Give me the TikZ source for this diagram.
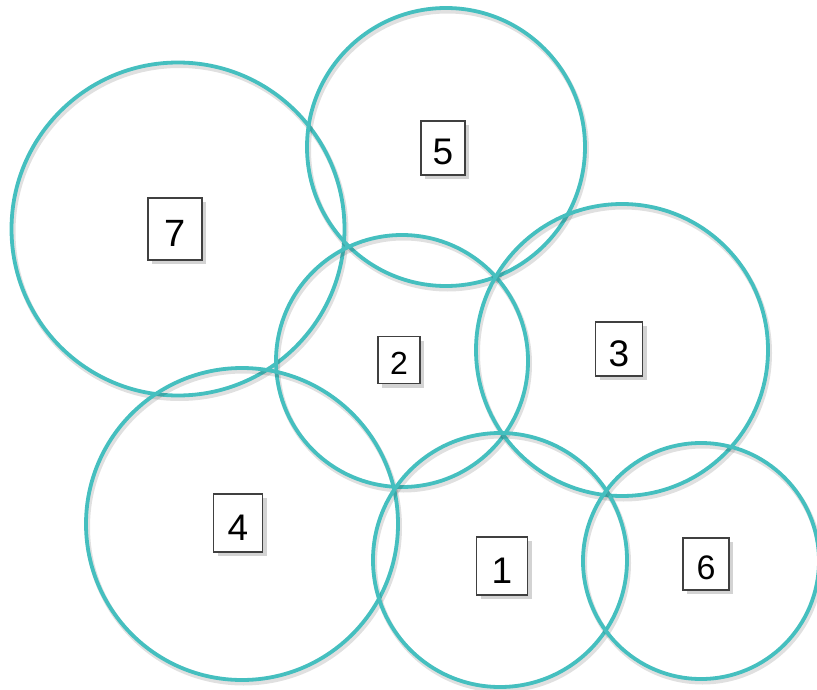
\documentclass[tikz,border=0pt]{standalone}
\usepackage{fontspec}
\setmainfont{Liberation Sans}
\usetikzlibrary{shadows}
\definecolor{teal}{HTML}{45BFBF}

\begin{document}
\begin{tikzpicture}[x=1pt,y=-1pt,
  zone/.style={circle,draw=teal,line width=3.8pt,inner sep=0pt,
    drop shadow={shadow xshift=1.5pt,shadow yshift=-3pt,opacity=0.12,fill=none,draw=black,line width=5pt}},
  numbox/.style={draw=black!75,line width=1.5pt,fill=white,font=\fontsize{37}{37}\selectfont,
    minimum width=47pt,minimum height=54pt,inner sep=0pt,text height=34pt,text depth=0pt,
    drop shadow={shadow xshift=4pt,shadow yshift=-4pt,opacity=0.35}}]
\useasboundingbox (0,0) rectangle (817,690);
\node[zone,minimum size=333pt] (Z7) at (178,229) {};
\node[zone,minimum size=278pt] (Z5) at (446,147) {};
\node[zone,minimum size=252pt] (Z2) at (402,361) {};
\node[zone,minimum size=292pt] (Z3) at (622,350) {};
\node[zone,minimum size=312pt] (Z4) at (242,524) {};
\node[zone,minimum size=254pt] (Z1) at (500,560) {};
\node[zone,minimum size=236pt] (Z6) at (701,561) {};
\node[numbox,minimum width=54pt,minimum height=62pt,font=\fontsize{38}{38}\selectfont] (N7) at (175,229) {7};
\node[numbox,minimum width=44pt] (N5) at (443,148) {5};
\node[numbox,minimum width=42pt,minimum height=47pt,font=\fontsize{32}{32}\selectfont,text height=29pt] (N2) at (399,360) {2};
\node[numbox] (N3) at (619,349) {3};
\node[numbox,minimum width=49pt,minimum height=58pt] (N4) at (238,523) {4};
\node[numbox,minimum width=51pt,minimum height=58pt] (N1) at (502,566) {1};
\node[numbox,minimum width=46pt,minimum height=52pt,font=\fontsize{34}{34}\selectfont,text height=31pt] (N6) at (706,564) {6};
\end{tikzpicture}
\end{document}
